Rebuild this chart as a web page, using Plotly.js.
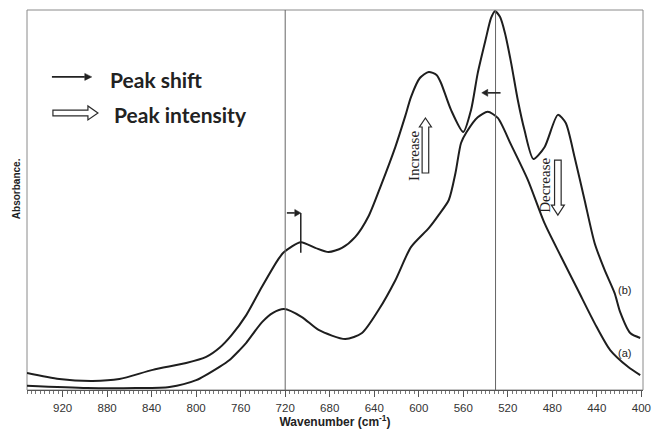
<!DOCTYPE html>
<html>
<head>
<meta charset="utf-8">
<script src="https://cdn.plot.ly/plotly-3.0.1.min.js"></script>
<style>
  html, body { margin: 0; padding: 0; background: #fff; }
  #chart { width: 652px; height: 429px; }
</style>
</head>
<body>
<div id="chart"></div>
<script>
// FTIR spectra, 400-950 cm-1 region: sample (a) and sample (b)
const waveB = [952, 923, 893, 869, 839, 809, 791, 779, 768, 755, 741, 726, 721, 706,
               693, 681, 669, 657, 645, 634, 621, 612, 607, 599, 591, 584, 580, 571,
               560, 553, 547, 540, 535, 531.5, 527, 522.5, 517, 511, 505, 497, 487, 475, 468,
               460, 451, 442, 433, 424, 419, 410, 401];
const absB  = [0.045, 0.029, 0.024, 0.029, 0.053, 0.071, 0.087, 0.111, 0.145, 0.197, 0.271, 0.345, 0.363, 0.389,
               0.374, 0.363, 0.374, 0.403, 0.458, 0.538, 0.640, 0.722, 0.771, 0.821, 0.837, 0.829, 0.808, 0.737,
               0.679, 0.737, 0.834, 0.921, 0.979, 0.997, 0.982, 0.939, 0.861, 0.763, 0.684, 0.608, 0.639, 0.724, 0.703,
               0.613, 0.500, 0.387, 0.316, 0.255, 0.205, 0.150, 0.137];

const waveA = [952, 898, 854, 824, 800, 779, 770, 761, 755, 741, 731, 721, 705, 690, 666, 651,
               636, 621, 607, 591, 582, 573, 567, 562, 557, 547, 538, 529, 517, 502, 487,
               472, 457, 442, 428, 412, 401];
const absA  = [0.011, 0.005, 0.005, 0.008, 0.026, 0.061, 0.079, 0.105, 0.124, 0.178, 0.203, 0.213, 0.192, 0.158, 0.134, 0.150,
               0.211, 0.289, 0.376, 0.426, 0.461, 0.500, 0.571, 0.650, 0.679, 0.718, 0.732, 0.716, 0.645, 0.553, 0.439,
               0.350, 0.263, 0.176, 0.105, 0.061, 0.039];

const seriesLabels = ['(a)', '(b)'];
const refLines = [720, 531];           // reference band positions, cm-1
const xTicks = [920, 880, 840, 800, 760, 720, 680, 640, 600, 560, 520, 480, 440, 400];

// plot geometry (pixels) used to size the decorative arrows
const W = 652, H = 429;
const M = { l: 27, r: 9, t: 10, b: 39 };
const X0 = 952, X1 = 398.5, Y0 = 0, Y1 = 1;
const plotW = W - M.l - M.r, plotH = H - M.t - M.b;
const ux = (X0 - X1) / plotW;   // wavenumber per pixel
const uy = (Y1 - Y0) / plotH;   // absorbance per pixel
const ink = '#222';

function toPath(pts) {
  return 'M ' + pts.map(q => q[0].toFixed(3) + ',' + q[1].toFixed(4)).join(' L ') + ' Z';
}

// hollow block arrow in data coordinates; dir: 'up' | 'down' | 'right'
function hollowArrow(xc, yc, len, dir, s, h, hl) {
  let pts;
  if (dir === 'right') {
    const p = (dx, dy) => [xc - dx * ux, yc + dy * uy];
    pts = [p(0, s), p(len - hl, s), p(len - hl, h), p(len, 0), p(len - hl, -h), p(len - hl, -s), p(0, -s)];
  } else {
    const sign = dir === 'up' ? 1 : -1;
    const p = (dx, dy) => [xc - dx * ux, yc + sign * dy * uy];
    pts = [p(-s, 0), p(-s, len - hl), p(-h, len - hl), p(0, len), p(h, len - hl), p(s, len - hl), p(s, 0)];
  }
  return { type: 'path', xref: 'x', yref: 'y', path: toPath(pts),
           line: { color: '#2a2a2a', width: 1.2 }, fillcolor: '#ffffff' };
}

// thin horizontal arrow with a filled head: tail/head given in wavenumber
function lineArrow(xTail, xHead, y, hl, hh) {
  const dir = xHead < xTail ? 1 : -1;           // +1 = head further right on the page
  const base = xHead + dir * hl * ux;
  return [
    { type: 'line', xref: 'x', yref: 'y', x0: xTail, x1: base, y0: y, y1: y,
      line: { color: ink, width: 1.6 } },
    { type: 'path', xref: 'x', yref: 'y',
      path: toPath([[xHead, y], [base, y + hh * uy], [base, y - hh * uy]]),
      line: { color: ink, width: 0.5 }, fillcolor: ink }
  ];
}

const lineStyle = { color: '#1e1e1e', width: 2, shape: 'spline', smoothing: 0.7 };

const traces = [
  { x: waveA, y: absA, type: 'scatter', mode: 'lines', name: seriesLabels[0], line: lineStyle, hoverinfo: 'skip' },
  { x: waveB, y: absB, type: 'scatter', mode: 'lines', name: seriesLabels[1], line: lineStyle, hoverinfo: 'skip' }
];

const shapes = [
  // frame
  { type: 'rect', xref: 'paper', yref: 'paper', x0: 0, x1: 1, y0: 0, y1: 1,
    line: { color: '#8a8a8a', width: 1 }, layer: 'below' },
  // reference band lines
  ...refLines.map(v => ({ type: 'line', xref: 'x', yref: 'paper', x0: v, x1: v, y0: 0, y1: 1,
                          line: { color: '#666', width: 1 } })),
  // peak-shift marker on the 720 band of (b)
  { type: 'line', xref: 'x', yref: 'y', x0: 706, x1: 706, y0: 0.361, y1: 0.466,
    line: { color: ink, width: 1.5 } },
  ...lineArrow(718.5, 706, 0.466, 6, 3.5),
  ...lineArrow(526.5, 543.4, 0.782, 6, 3.5),
  // intensity arrows
  hollowArrow(594, 0.571, 55, 'up', 3.3, 6, 9),
  hollowArrow(475, 0.605, 55, 'down', 3.3, 6.5, 10),
  // key arrows
  ...lineArrow(929.6, 893.8, 0.824, 7, 3.5),
  hollowArrow(928.7, 0.729, 45, 'right', 2.8, 7, 10)
];

const annText = { family: 'Liberation Sans, Arial, sans-serif', size: 11, color: ink };
const keyFont = { family: 'Lato, "Open Sans", sans-serif', size: 21, color: ink };
const serifFont = { family: 'Liberation Serif, "Times New Roman", serif', size: 15, color: ink };

const annotations = [
  // key
  { x: 879.4, y: 0.818, xref: 'x', yref: 'y', text: '<b>Peak shift</b>', showarrow: false,
    xanchor: 'left', yanchor: 'middle', font: keyFont },
  { x: 875.8, y: 0.726, xref: 'x', yref: 'y', text: '<b>Peak intensity</b>', showarrow: false,
    xanchor: 'left', yanchor: 'middle', font: keyFont },
  // intensity labels
  { x: 604.3, y: 0.616, xref: 'x', yref: 'y', text: 'Increase', textangle: -90, showarrow: false,
    xanchor: 'center', yanchor: 'middle', font: serifFont },
  { x: 486, y: 0.539, xref: 'x', yref: 'y', text: 'Decrease', textangle: -90, showarrow: false,
    xanchor: 'center', yanchor: 'middle', font: serifFont },
  // series labels
  { x: 415.3, y: 0.263, xref: 'x', yref: 'y', text: seriesLabels[1], showarrow: false, font: annText },
  { x: 415.3, y: 0.097, xref: 'x', yref: 'y', text: seriesLabels[0], showarrow: false, font: annText },
  // y-axis title
  { x: -0.017, y: 0.53, xref: 'paper', yref: 'paper', text: '<b>Absorbance.</b>', textangle: -90,
    showarrow: false, xanchor: 'center', yanchor: 'middle',
    font: { family: 'Liberation Sans, Arial, sans-serif', size: 10, color: ink } }
];

const layout = {
  width: W, height: H,
  margin: M,
  paper_bgcolor: '#fff', plot_bgcolor: '#fff',
  showlegend: false,
  xaxis: {
    range: [X0, X1], tickvals: xTicks, ticktext: xTicks.map(String),
    ticks: 'outside', ticklen: 6, tickwidth: 1, tickcolor: '#555',
    minor: { dtick: 4, tick0: 400, ticks: 'outside', ticklen: 3, tickcolor: '#777', tickwidth: 1 },
    showline: true, linecolor: '#555', linewidth: 1, mirror: false,
    showgrid: false, zeroline: false,
    tickfont: { family: 'Liberation Sans, Arial, sans-serif', size: 11.5, color: '#333' },
    ticklabelstandoff: 1,
    title: { text: '<b>Wavenumber (cm<sup>-1</sup>)</b>', standoff: 3,
             font: { family: 'Liberation Sans, Arial, sans-serif', size: 12, color: ink } }
  },
  yaxis: {
    range: [Y0, Y1], showticklabels: false, ticks: '', showgrid: false, zeroline: false,
    showline: false
  },
  shapes: shapes,
  annotations: annotations
};

Plotly.newPlot('chart', traces, layout, { staticPlot: true, displayModeBar: false });
</script>
</body>
</html>
